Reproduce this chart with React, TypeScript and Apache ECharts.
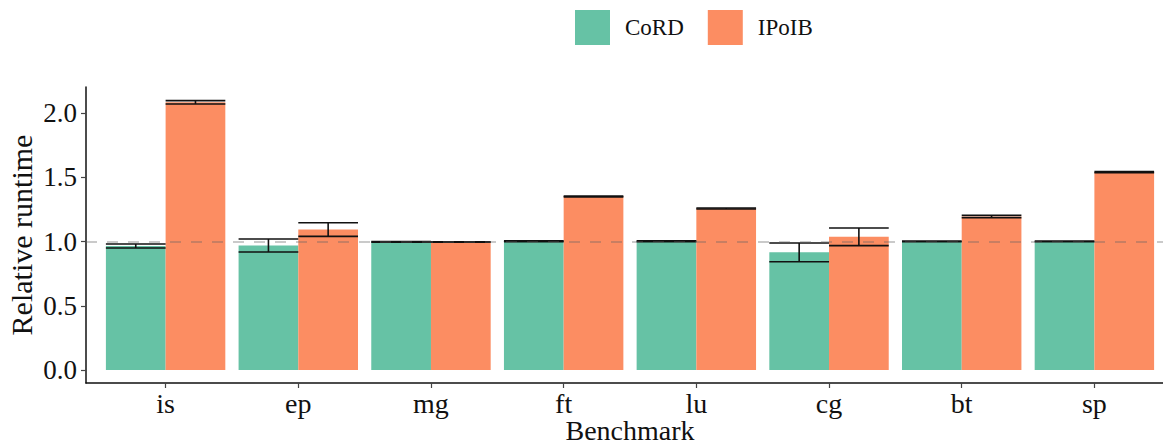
import React, { useEffect, useRef } from "react";
import * as echarts from "echarts";

const categories = ["is", "ep", "mg", "ft", "lu", "cg", "bt", "sp"];
const cordMean = [0.966, 0.970, 0.998, 1.003, 1.003, 0.917, 1.002, 1.002];
const cordLow = [0.951, 0.920, 0.995, 1.000, 1.000, 0.844, 0.999, 0.999];
const cordHigh = [0.982, 1.021, 1.001, 1.006, 1.006, 0.990, 1.005, 1.005];
const ipoibMean = [2.086, 1.095, 0.997, 1.352, 1.258, 1.038, 1.196, 1.541];
const ipoibLow = [2.073, 1.041, 0.995, 1.349, 1.255, 0.969, 1.187, 1.537];
const ipoibHigh = [2.099, 1.148, 0.999, 1.356, 1.262, 1.107, 1.206, 1.546];
const yTicks = [0, 0.5, 1.0, 1.5, 2.0];
const seriesNames = ["CoRD", "IPoIB"];
const colors = ["#66c2a5", "#fc8d62"];

const FONT = "'Liberation Serif', 'Times New Roman', serif";
const HALF = 0.45;

function barRender(offsetSign: number) {
  return (params: any, api: any) => {
    const x = api.value(0);
    const y = api.value(1);
    const x0 = offsetSign < 0 ? x - HALF : x;
    const x1 = offsetSign < 0 ? x : x + HALF;
    const p0 = api.coord([x0, 0]);
    const p1 = api.coord([x1, y]);
    return {
      type: "rect",
      shape: { x: p0[0], y: p1[1], width: p1[0] - p0[0], height: p0[1] - p1[1] },
      style: { fill: api.visual("color") },
    };
  };
}

function errRender(offsetSign: number) {
  return (params: any, api: any) => {
    const x = api.value(0);
    const lo = api.value(1);
    const hi = api.value(2);
    const x0 = offsetSign < 0 ? x - HALF : x;
    const x1 = offsetSign < 0 ? x : x + HALF;
    const xc = (x0 + x1) / 2;
    const a = api.coord([x0, lo]);
    const b = api.coord([x1, lo]);
    const c = api.coord([x0, hi]);
    const d = api.coord([x1, hi]);
    const m1 = api.coord([xc, lo]);
    const m2 = api.coord([xc, hi]);
    const st = { stroke: "#111", lineWidth: 1.6 };
    return {
      type: "group",
      children: [
        { type: "line", shape: { x1: a[0], y1: a[1], x2: b[0], y2: b[1] }, style: st },
        { type: "line", shape: { x1: c[0], y1: c[1], x2: d[0], y2: d[1] }, style: st },
        { type: "line", shape: { x1: m1[0], y1: m1[1], x2: m2[0], y2: m2[1] }, style: st },
      ],
    };
  };
}

export default function App() {
  const ref = useRef<HTMLDivElement>(null);
  useEffect(() => {
    if (!ref.current) return;
    const chart = echarts.init(ref.current, null, { renderer: "svg" });
    const xs = categories.map((_, i) => i + 1);
    const option: any = {
      animation: false,
      backgroundColor: "#fff",
      textStyle: { fontFamily: FONT },
      legend: {
        data: seriesNames,
        left: 570,
        top: 5,
        icon: "rect",
        itemWidth: 35,
        itemHeight: 35,
        itemGap: 24,
        textStyle: { fontFamily: FONT, fontSize: 23, color: "#111", padding: [0, 0, 0, 10] },
      },
      grid: {
        left: 86,
        top: 87,
        width: 1088,
        bottom: 64,
        containLabel: false,
        outerBoundsMode: "none",
      },
      xAxis: {
        type: "value",
        min: 0.4,
        max: 8.6,
        name: "Benchmark",
        nameLocation: "middle",
        nameGap: 36,
        nameMoveOverlap: false,
        nameTextStyle: { fontFamily: FONT, fontSize: 28, lineHeight: 22, color: "#111" },
        axisLine: { show: true, onZero: false, lineStyle: { color: "#111", width: 1.5 } },
        axisTick: { show: true, customValues: xs, length: 5, lineStyle: { color: "#444", width: 1.2 } },
        axisLabel: {
          customValues: xs,
          formatter: (v: number) => categories[Math.round(v) - 1] ?? "",
          fontFamily: FONT,
          fontSize: 28,
          color: "#111",
          margin: 6,
        },
        splitLine: { show: false },
      },
      yAxis: {
        type: "value",
        min: -0.101,
        max: 2.205,
        name: "Relative runtime",
        nameLocation: "middle",
        nameGap: 50,
        nameRotate: 90,
        nameMoveOverlap: false,
        nameTextStyle: { fontFamily: FONT, fontSize: 30, color: "#111" },
        axisLine: { show: true, onZero: false, lineStyle: { color: "#111", width: 1.5 } },
        axisTick: { show: true, customValues: yTicks, length: 5, lineStyle: { color: "#444", width: 1.2 } },
        axisLabel: {
          customValues: yTicks,
          formatter: (v: number) => v.toFixed(1),
          fontFamily: FONT,
          fontSize: 27,
          color: "#111",
          margin: 9,
        },
        splitLine: { show: false },
      },
      series: [
        {
          name: "CoRD",
          type: "custom",
          itemStyle: { color: colors[0] },
          renderItem: barRender(-1),
          data: xs.map((x, i) => [x, cordMean[i]]),
          z: 2,
        },
        {
          name: "IPoIB",
          type: "custom",
          itemStyle: { color: colors[1] },
          renderItem: barRender(1),
          data: xs.map((x, i) => [x, ipoibMean[i]]),
          z: 2,
        },
        {
          name: "CoRD err",
          type: "custom",
          renderItem: errRender(-1),
          data: xs.map((x, i) => [x, cordLow[i], cordHigh[i]]),
          z: 4,
        },
        {
          name: "IPoIB err",
          type: "custom",
          renderItem: errRender(1),
          data: xs.map((x, i) => [x, ipoibLow[i], ipoibHigh[i]]),
          z: 4,
          markLine: {
            silent: true,
            symbol: "none",
            label: { show: false },
            lineStyle: { type: [11, 10], color: "rgba(100,100,100,0.45)", width: 1.6 },
            data: [{ yAxis: 1.0 }],
          },
        },
      ],
    };
    chart.setOption(option);
    return () => chart.dispose();
  }, []);
  return <div ref={ref} style={{ width: 1163, height: 447, position: "absolute", left: 0, top: 0 }} />;
}
